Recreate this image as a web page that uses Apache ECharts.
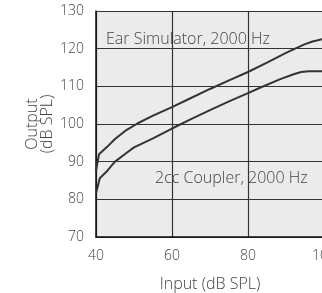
<!DOCTYPE html>
<html>
<head>
<meta charset="utf-8">
<script src="https://cdn.jsdelivr.net/npm/echarts@6/dist/echarts.min.js"></script>
<style>
html,body{margin:0;padding:0;background:#fff;}
#c{width:322px;height:293px;}
</style>
</head>
<body>
<div id="c"></div>
<script>
var earInput = [40, 40.8, 43, 45, 48, 51, 55, 60, 65, 70, 75, 80, 85, 90, 92.4, 95, 97, 100];
var earOutput = [87.6, 92.0, 94.0, 96.0, 98.4, 100.2, 102.2, 104.5, 106.9, 109.3, 111.6, 113.8, 116.3, 118.9, 120.0, 121.2, 121.9, 122.6];
var cplInput = [40, 41, 43, 45, 48, 50, 55, 60, 65, 70, 75, 80, 83.3, 88.5, 92, 94, 96, 100];
var cplOutput = [81.6, 85.6, 87.6, 90.0, 92.3, 93.8, 96.2, 98.8, 101.3, 103.7, 106.0, 108.2, 109.7, 111.9, 113.2, 113.8, 114.0, 114.0];
var xTicks = [40, 60, 80, 100];
var yTicks = [70, 80, 90, 100, 110, 120, 130];
var earLabel = 'Ear Simulator, 2000 Hz';
var cplLabel = '2cc Coupler, 2000 Hz';
var xName = 'Input (dB SPL)';
var yName = 'Output\n(dB SPL)';

function pairs(xs, ys){ return xs.map(function(x,i){ return [x, ys[i]]; }); }

var FONT = "'Open Sans', 'Noto Sans', sans-serif";
var TXT = '#444';
var chart = echarts.init(document.getElementById('c'), null, {renderer:'canvas'});
chart.setOption({
  animation: false,
  textStyle: {fontFamily: FONT},
  grid: {left: 96, top: 11, right: -2, bottom: 56, show: true, backgroundColor: '#ebebeb', borderWidth: 0,
         containLabel: false, outerBoundsMode: 'none'},
  xAxis: {
    type: 'value', min: xTicks[0], max: xTicks[xTicks.length-1], interval: 20,
    name: xName, nameLocation: 'middle', nameGap: 39, nameMoveOverlap: false,
    nameTextStyle: {fontSize: 16, color: TXT, fontFamily: FONT, fontWeight: 300},
    axisLine: {show: true, onZero: false, lineStyle: {color: '#111', width: 1.5}},
    axisTick: {show: false},
    axisLabel: {fontSize: 14, color: TXT, margin: 12, fontFamily: FONT, fontWeight: 300, showMaxLabel: true, hideOverlap: false},
    splitLine: {show: true, lineStyle: {color: '#333', width: 1.2}}
  },
  yAxis: {
    type: 'value', min: yTicks[0], max: yTicks[yTicks.length-1], interval: 10,
    name: yName, nameLocation: 'middle', nameGap: 41, nameRotate: 90, nameMoveOverlap: false,
    nameTextStyle: {fontSize: 16, color: TXT, lineHeight: 15, fontFamily: FONT, fontWeight: 300},
    axisLine: {show: true, lineStyle: {color: '#111', width: 1.5}},
    axisTick: {show: false},
    axisLabel: {fontSize: 14, color: TXT, margin: 12, fontFamily: FONT, fontWeight: 300},
    splitLine: {show: true, lineStyle: {color: '#333', width: 1.2}}
  },
  series: [
    {type: 'line', data: pairs(earInput, earOutput), symbol: 'none', lineStyle: {color: '#333', width: 2}, z: 3},
    {type: 'line', data: pairs(cplInput, cplOutput), symbol: 'none', lineStyle: {color: '#333', width: 2}, z: 3}
  ],
  graphic: [
    {type: 'text', left: 106, top: 31, z: 10, style: {text: earLabel, fontSize: 16, fill: TXT, fontFamily: FONT, fontWeight: 300}},
    {type: 'text', left: 155, top: 170, z: 10, style: {text: cplLabel, fontSize: 16, fill: TXT, fontFamily: FONT, fontWeight: 300}}
  ]
});
</script>
</body>
</html>
